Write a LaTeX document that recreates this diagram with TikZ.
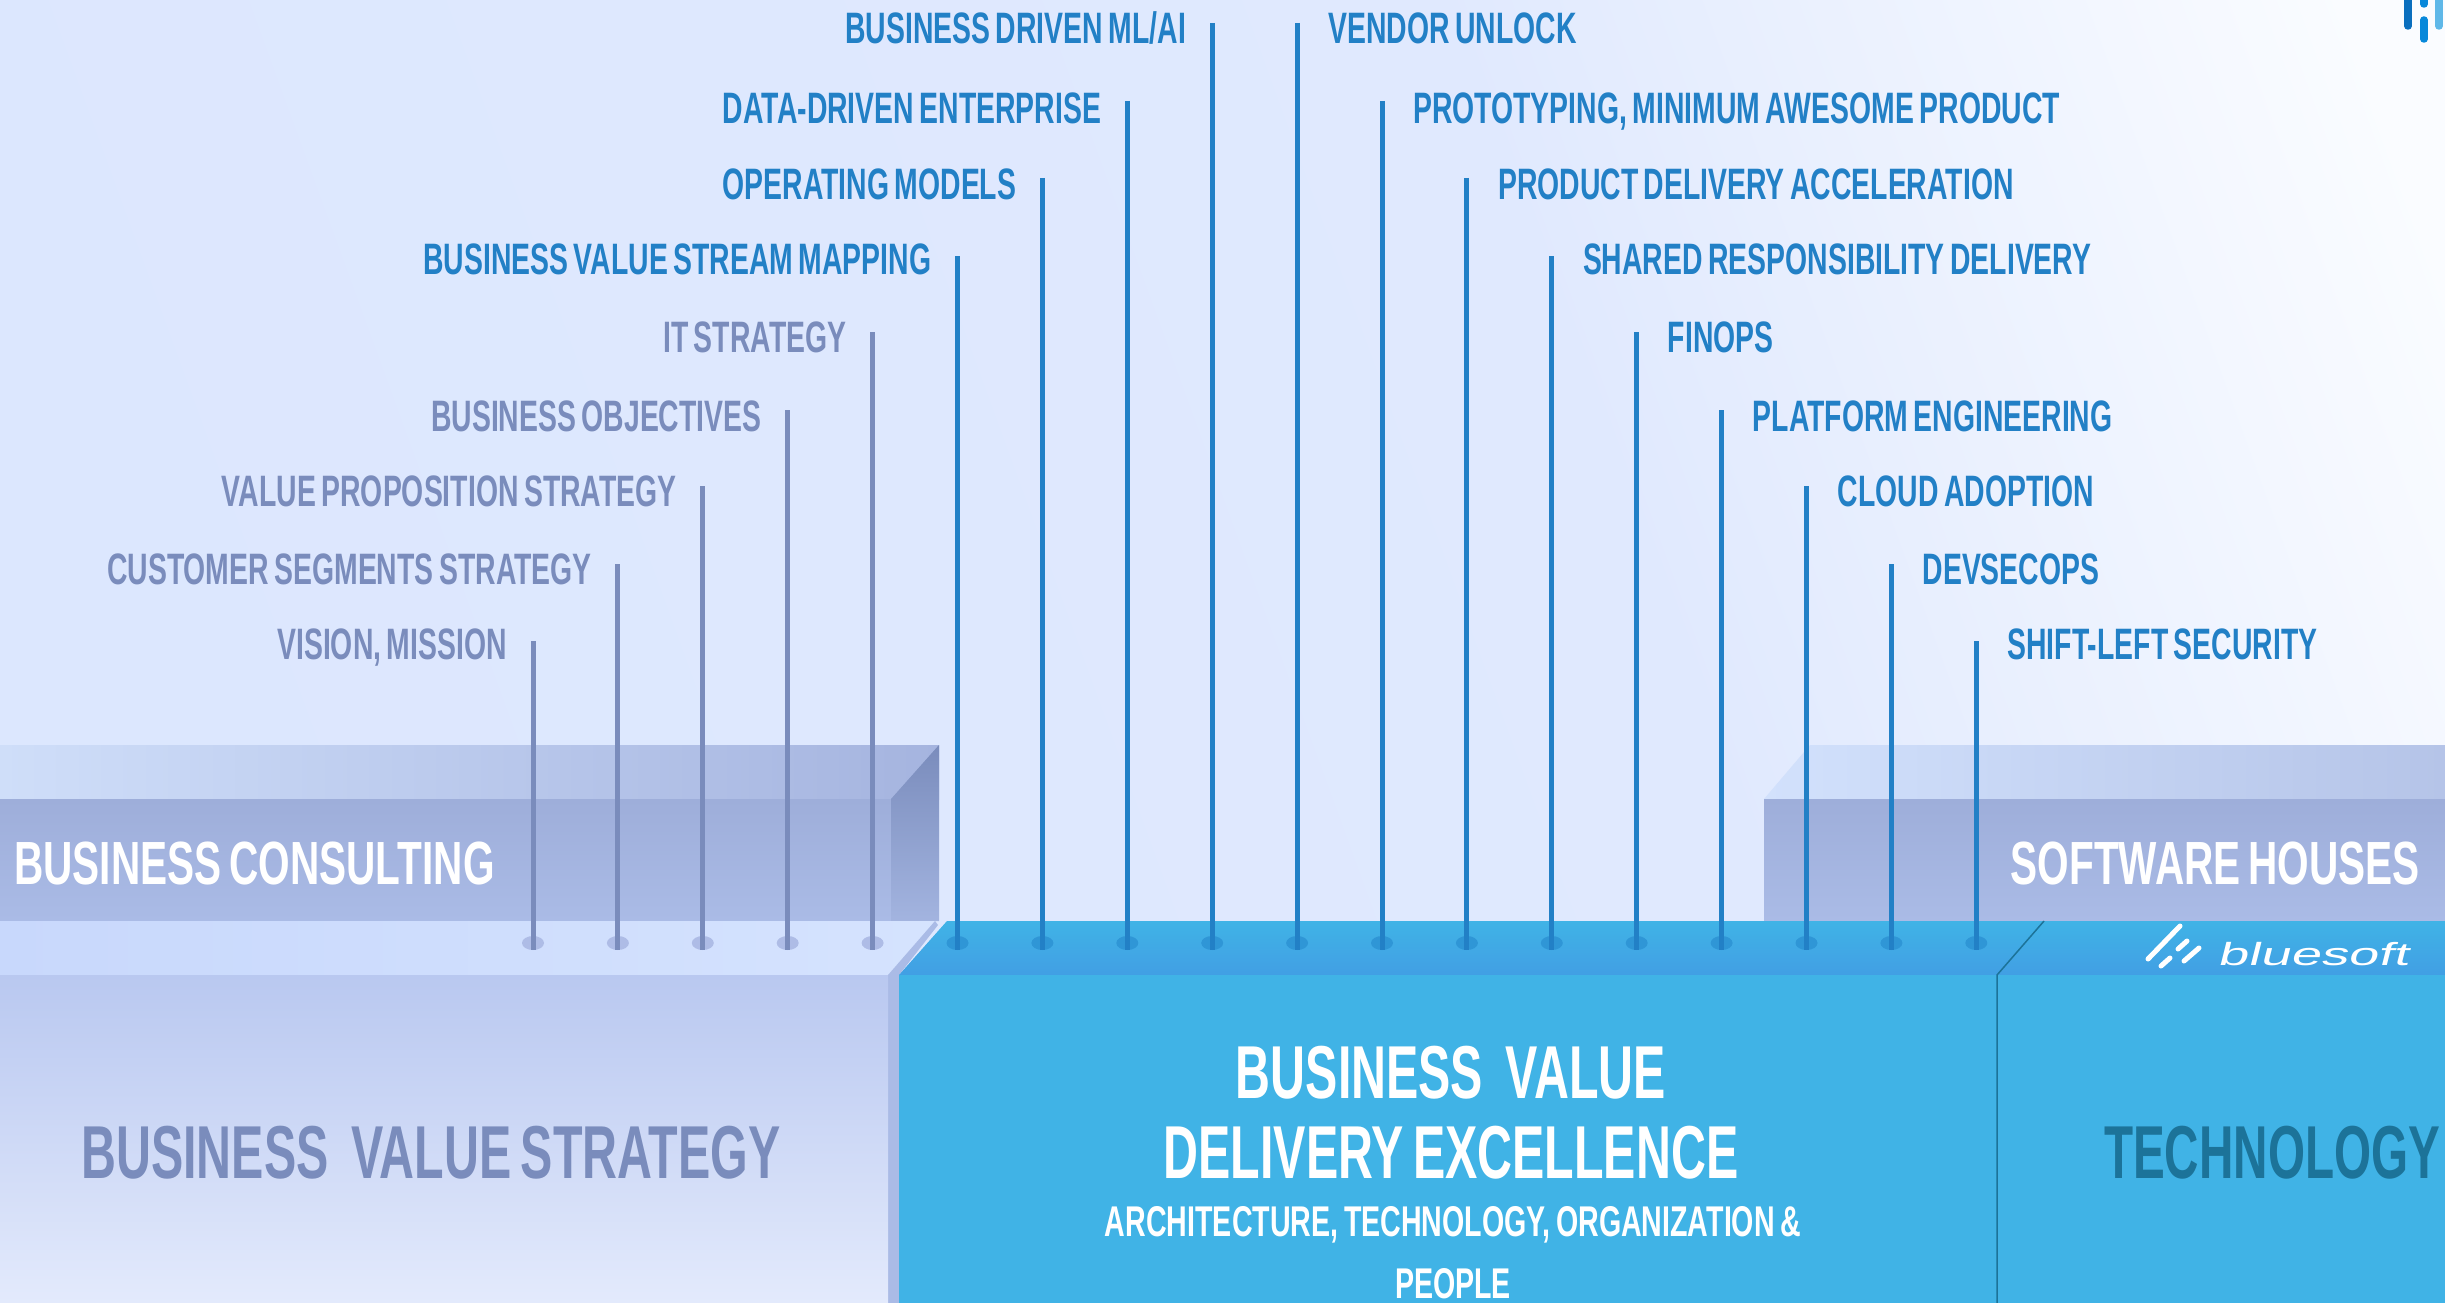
\documentclass[tikz,border=0pt]{standalone}
\usepackage{fontspec}
\setmainfont[FakeStretch=0.645,WordSpace=0.7]{Liberation Sans}
\newfontfamily\techfont[FakeStretch=0.635]{Liberation Sans}
\newfontfamily\subfont[FakeStretch=0.665,WordSpace=0.7]{Liberation Sans}
\newfontfamily\logofont[FakeStretch=1.7,FakeSlant=0.25]{Liberation Sans}
\usetikzlibrary{shapes.geometric}
\definecolor{bgleft}{HTML}{DCE7FE}
\definecolor{bgmid}{HTML}{E0E9FE}
\definecolor{bgright}{HTML}{FAFCFF}
\definecolor{bandfront}{HTML}{9EAEDA}
\definecolor{bandlow}{HTML}{AABBE6}
\definecolor{backleft}{HTML}{CFDEF9}
\definecolor{backright}{HTML}{A5B4DF}
\definecolor{backtwoleft}{HTML}{D2E1FC}
\definecolor{backtworight}{HTML}{B5C4E8}
\definecolor{slabtopleft}{HTML}{C8D8FC}
\definecolor{slabtopright}{HTML}{D5E3FE}
\definecolor{slabhigh}{HTML}{B9C8F0}
\definecolor{slabfade}{HTML}{E3EAFC}
\definecolor{stratgrey}{HTML}{7A8CBC}
\definecolor{deliveryblue}{HTML}{2280C6}
\definecolor{slabblue}{HTML}{40B3E6}
\definecolor{slablow}{HTML}{419FE4}
\definecolor{pinblue}{HTML}{2F96D6}
\definecolor{pinpale}{HTML}{AEBCE6}
\definecolor{techteal}{HTML}{1C7399}
\definecolor{markdark}{HTML}{0A6FBE}
\definecolor{markmid}{HTML}{0788DA}
\definecolor{marklight}{HTML}{5FB8E8}
\pgfdeclarehorizontalshading{skyshade}{100bp}{color(0bp)=(bgleft); color(25bp)=(bgleft); color(60bp)=(bgmid); color(80bp)=(bgright); color(100bp)=(bgright)}
\tikzset{
    lefttag/.style={anchor=east,inner sep=0pt,text height=31pt,text depth=0pt,font=\bfseries\fontsize{44}{44}\selectfont,text=stratgrey},
    righttag/.style={anchor=west,inner sep=0pt,text height=31pt,text depth=0pt,font=\bfseries\fontsize{44}{44}\selectfont,text=deliveryblue},
    bigtag/.style={inner sep=0pt,text height=54pt,text depth=0pt,font=\bfseries\fontsize{75}{75}\selectfont},
    bandtag/.style={inner sep=0pt,text height=44pt,text depth=0pt,text=white,font=\fontsize{61}{61}\subfont\bfseries\selectfont},
    subtag/.style={inner sep=0pt,text height=30pt,text depth=0pt,text=white,font=\fontsize{43}{43}\subfont\bfseries\selectfont},
    pin/.style={ellipse,minimum width=22pt,minimum height=14pt,inner sep=0pt},
    logobar/.style={line width=7.5pt,line cap=round}
}
\begin{document}
\begin{tikzpicture}[x=1pt,y=-1pt]
        \useasboundingbox (0,0) rectangle (2445,1303);
        % Background
        \shade[shading=skyshade,shading angle=20] (0,0) rectangle (2445,1303);

        % Back bands, left and right
        \shade[left color=backleft,right color=backright] (0,745) rectangle (939,799);
        \shade[top color=bandfront,bottom color=bandlow] (0,799) rectangle (891,921);
        \shade[top color=stratgrey,bottom color=bandlow!85!stratgrey] (939,745) -- (939,921) -- (891,921) -- (891,799) -- cycle;
        \shade[left color=backtwoleft,right color=backtworight] (1810,745) -- (2445,745) -- (2445,799) -- (1764,799) -- cycle;
        \shade[top color=bandfront,bottom color=bandlow] (1764,799) rectangle (2445,921);

        % Slab on the strategy side
        \shade[left color=slabtopleft,right color=slabtopright] (0,921) -- (935,921) -- (888,975) -- (0,975) -- cycle;
        \fill[bandlow] (935,921) -- (938,925) -- (899,975) -- (899,1303) -- (888,1303) -- (888,975) -- cycle;
        \shade[top color=slabhigh,bottom color=slabfade] (0,975) rectangle (888,1303);

        % Slab on the delivery side
        \shade[top color=slabblue,bottom color=slablow] (947,921) -- (2445,921) -- (2445,975) -- (899,975) -- cycle;
        \fill[slabblue] (899,975) rectangle (2445,1303);
        \coordinate (divtop) at (2044,921);
        \coordinate (divmid) at (1997,975);
        \coordinate (divend) at (1997,1303);
        \draw[line width=1.5pt,techteal] (divtop) -- (divmid) -- (divend);

        % Left pins and labels
        \foreach \i/\ytop/\ylab/\txt in {0/641/644/{VISION, MISSION},1/564/569/{CUSTOMER SEGMENTS STRATEGY},2/486/491/{VALUE PROPOSITION STRATEGY},3/410/416/{BUSINESS OBJECTIVES},4/332/337/{IT STRATEGY}} {
            \node[pin,fill=pinpale] (pin\i) at ({533+84.9*\i},943) {};
            \coordinate (top\i) at ({533+84.9*\i},\ytop);
            \draw[line width=5pt,stratgrey] (top\i) -- (pin\i.south);
            \node[lefttag] (tag\i) at ({533+84.9*\i-26},\ylab) {\txt};
        }
        \foreach \i/\ytop/\ylab/\txt in {5/256/259/{BUSINESS VALUE STREAM MAPPING},6/178/184/{OPERATING MODELS},7/101/108/{DATA-DRIVEN ENTERPRISE},8/23/28/{BUSINESS DRIVEN ML/AI}} {
            \node[pin,fill=pinblue] (pin\i) at ({533+84.9*\i},943) {};
            \coordinate (top\i) at ({533+84.9*\i},\ytop);
            \draw[line width=5pt,deliveryblue] (top\i) -- (pin\i.south);
            \node[lefttag,text=deliveryblue] (tag\i) at ({533+84.9*\i-26},\ylab) {\txt};
        }
        % Right pins and labels
        \foreach \i/\ytop/\ylab/\txt in {9/23/28/{VENDOR UNLOCK},10/101/108/{PROTOTYPING, MINIMUM AWESOME PRODUCT},11/178/184/{PRODUCT DELIVERY ACCELERATION},12/256/259/{SHARED RESPONSIBILITY DELIVERY},13/332/337/{FINOPS},14/410/416/{PLATFORM ENGINEERING},15/486/491/{CLOUD ADOPTION},16/564/569/{DEVSECOPS},17/641/644/{SHIFT-LEFT SECURITY}} {
            \node[pin,fill=pinblue] (pin\i) at ({533+84.9*\i},943) {};
            \coordinate (top\i) at ({533+84.9*\i},\ytop);
            \draw[line width=5pt,deliveryblue] (top\i) -- (pin\i.south);
            \node[righttag] (tag\i) at ({533+84.9*\i+31},\ylab) {\txt};
        }

        % Band and slab titles
        \node[bandtag,anchor=west] (consulting) at (14,862) {BUSINESS CONSULTING};
        \node[bandtag,anchor=east] (houses) at (2420,862) {SOFTWARE HOUSES};
        \node[bigtag,text=stratgrey] (strategy) at (431,1151) {BUSINESS\hspace{0.3em}VALUE STRATEGY};
        \node[bigtag,text=white] (value) at (1451,1071) {BUSINESS\hspace{0.3em}VALUE};
        \node[bigtag,text=white] (excellence) at (1451,1151) {DELIVERY EXCELLENCE};
        \node[subtag] (organization) at (1453,1221) {ARCHITECTURE, TECHNOLOGY, ORGANIZATION \&};
        \node[subtag] (people) at (1453,1283) {PEOPLE};
        \node[bigtag,text=techteal,font=\fontsize{75}{75}\techfont\bfseries\selectfont] (technology) at (2272,1151) {TECHNOLOGY};

        % Logo on the slab
        \draw[white,logobar,line width=5pt] (2180,926) -- (2148,959);
        \draw[white,logobar,line width=5pt] (2187,941) -- (2178,949);
        \draw[white,logobar,line width=5pt] (2170,958) -- (2161,966);
        \draw[white,logobar,line width=5pt] (2199,948) -- (2184,961);
        \node[anchor=west,inner sep=0pt,text=white,font=\fontsize{32}{32}\selectfont\logofont] (bluesoft) at (2217,954) {bluesoft};

        % Logo in the corner
        \draw[logobar,color=markdark] (2408,-5) -- (2408,26);
        \draw[logobar,color=markmid] (2424,-5) -- (2424,4);
        \draw[logobar,color=markmid] (2424,20) -- (2424,39);
        \draw[logobar,color=marklight] (2439,-5) -- (2439,26);
    \end{tikzpicture}
\end{document}
